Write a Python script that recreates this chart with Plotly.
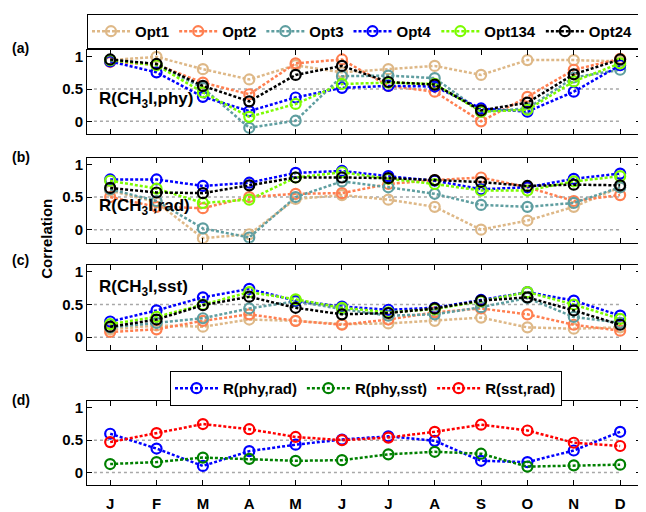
import plotly.graph_objects as go

months = ["J", "F", "M", "A", "M", "J", "J", "A", "S", "O", "N", "D"]
month_idx = list(range(1, len(months) + 1))

opt_names = ["Opt1", "Opt2", "Opt3", "Opt4", "Opt134", "Opt24"]
opt_colors = ["#DEB887", "#FF7F50", "#5F9EA0", "#0000FF", "#7CFC00", "#000000"]

# Panel (a) R(CH3I, phy)
phy_opt1 = [0.95, 1.00, 0.81, 0.65, 0.87, 0.76, 0.81, 0.86, 0.72, 0.95, 0.95, 0.93]
phy_opt2 = [0.92, 0.88, 0.60, 0.42, 0.90, 0.96, 0.55, 0.46, 0.00, 0.38, 0.80, 0.97]
phy_opt3 = [0.95, 0.88, 0.52, -0.10, 0.01, 0.70, 0.71, 0.67, 0.15, 0.20, 0.68, 0.80]
phy_opt4 = [0.93, 0.76, 0.38, 0.16, 0.37, 0.52, 0.55, 0.54, 0.20, 0.15, 0.46, 0.87]
phy_opt134 = [0.95, 0.87, 0.45, 0.07, 0.27, 0.58, 0.60, 0.58, 0.15, 0.18, 0.62, 0.90]
phy_opt24 = [0.96, 0.89, 0.55, 0.31, 0.72, 0.86, 0.61, 0.57, 0.17, 0.29, 0.73, 0.96]

# Panel (b) R(CH3I, rad)
rad_opt1 = [0.60, 0.42, -0.13, -0.07, 0.47, 0.53, 0.46, 0.35, 0.00, 0.14, 0.35, 0.65]
rad_opt2 = [0.50, 0.35, 0.33, 0.50, 0.55, 0.56, 0.70, 0.76, 0.80, 0.65, 0.44, 0.53]
rad_opt3 = [0.62, 0.44, 0.02, -0.12, 0.50, 0.74, 0.65, 0.55, 0.38, 0.35, 0.41, 0.65]
rad_opt4 = [0.77, 0.77, 0.67, 0.72, 0.87, 0.90, 0.82, 0.75, 0.62, 0.65, 0.78, 0.86]
rad_opt134 = [0.75, 0.63, 0.41, 0.46, 0.80, 0.88, 0.78, 0.70, 0.60, 0.60, 0.74, 0.82]
rad_opt24 = [0.64, 0.57, 0.56, 0.68, 0.80, 0.80, 0.79, 0.76, 0.73, 0.67, 0.69, 0.68]

# Panel (c) R(CH3I, sst)
sst_opt1 = [0.12, 0.18, 0.16, 0.27, 0.25, 0.20, 0.21, 0.25, 0.30, 0.15, 0.13, 0.15]
sst_opt2 = [0.08, 0.12, 0.25, 0.35, 0.25, 0.19, 0.27, 0.38, 0.44, 0.35, 0.19, 0.10]
sst_opt3 = [0.15, 0.22, 0.29, 0.44, 0.55, 0.43, 0.33, 0.35, 0.46, 0.60, 0.31, 0.22]
sst_opt4 = [0.24, 0.41, 0.61, 0.74, 0.56, 0.47, 0.42, 0.45, 0.57, 0.69, 0.56, 0.33]
sst_opt134 = [0.20, 0.31, 0.50, 0.69, 0.58, 0.45, 0.38, 0.43, 0.55, 0.69, 0.50, 0.28]
sst_opt24 = [0.16, 0.27, 0.49, 0.62, 0.45, 0.35, 0.37, 0.44, 0.56, 0.61, 0.41, 0.19]

# Panel (d)
d_names = ["R(phy,rad)", "R(phy,sst)", "R(sst,rad)"]
d_colors = ["#0000FF", "#008000", "#FF0000"]
r_phy_rad = [0.60, 0.37, 0.10, 0.33, 0.43, 0.51, 0.56, 0.49, 0.18, 0.16, 0.34, 0.63]
r_phy_sst = [0.13, 0.16, 0.23, 0.21, 0.18, 0.19, 0.28, 0.32, 0.29, 0.09, 0.11, 0.12]
r_sst_rad = [0.47, 0.61, 0.75, 0.67, 0.55, 0.50, 0.54, 0.63, 0.74, 0.65, 0.46, 0.41]

panel_labels = ["(a)", "(b)", "(c)", "(d)"]
panel_titles = ["R(CH<sub>3</sub>I,phy)", "R(CH<sub>3</sub>I,rad)", "R(CH<sub>3</sub>I,sst)"]
panel_title_y = [0.33, 0.35, 0.76]

# page body has an 8px margin; lay the figure out in screen pixels minus that
OFF = 8
W, H = 646 - OFF, 512 - OFF
FONT = "Liberation Sans"
panels_px = [(49, 134), (158, 244), (267, 353), (405, 490)]
label_px = [47, 157, 262, 403]
x_dom = [(87 - OFF) / W, (641 - OFF) / W]


def py(p):
    return 1 - (p - OFF) / H


def px(p):
    return (p - OFF) / W


fig = go.Figure()

opt_panels = [
    [phy_opt1, phy_opt2, phy_opt3, phy_opt4, phy_opt134, phy_opt24],
    [rad_opt1, rad_opt2, rad_opt3, rad_opt4, rad_opt134, rad_opt24],
    [sst_opt1, sst_opt2, sst_opt3, sst_opt4, sst_opt134, sst_opt24],
]


def add_series(y, name, color, k, show, legend):
    xs = "x" if k == 0 else f"x{k+1}"
    ys = "y" if k == 0 else f"y{k+1}"
    fig.add_trace(go.Scatter(
        x=month_idx, y=y, name=name, mode="lines+markers",
        line=dict(color=color, width=2.5, dash="3px,2px"),
        marker=dict(symbol="circle-open", size=10, color=color, line=dict(width=2.2, color=color)),
        xaxis=xs, yaxis=ys, legendgroup=name, showlegend=show, legend=legend,
    ))


for k, series in enumerate(opt_panels):
    for name, color, y in zip(opt_names, opt_colors, series):
        add_series(y, name, color, k, k == 0, "legend")

for name, color, y in zip(d_names, d_colors, [r_phy_rad, r_phy_sst, r_sst_rad]):
    add_series(y, name, color, 3, True, "legend2")

tickfont = dict(family=FONT, size=15, color="black", weight="bold")
layout = dict(
    width=W, height=H, margin=dict(l=0, r=0, t=0, b=0),
    paper_bgcolor="white", plot_bgcolor="white",
    font=dict(family=FONT, size=15, color="black"),
    showlegend=True,
)
shapes = []
annotations = []
for k, (top, bot) in enumerate(panels_px):
    xa = "xaxis" if k == 0 else f"xaxis{k+1}"
    ya = "yaxis" if k == 0 else f"yaxis{k+1}"
    xref = "x" if k == 0 else f"x{k+1}"
    yref = "y" if k == 0 else f"y{k+1}"
    layout[xa] = dict(
        domain=x_dom, range=[0.5, 12.45], anchor=yref,
        tickvals=month_idx, ticktext=months,
        showticklabels=(k == 3), ticks="inside", ticklen=5, tickcolor="black",
        showline=True, linecolor="black", linewidth=1, mirror="ticks",
        showgrid=False, zeroline=False, tickfont=tickfont, ticklabelstandoff=5,
    )
    layout[ya] = dict(
        domain=[py(bot), py(top)], range=[-0.2, 1.1], anchor=xref,
        tickvals=[0, 0.5, 1], ticktext=["0", "0.5", "1"],
        ticks="inside", ticklen=5, tickcolor="black",
        showline=True, linecolor="black", linewidth=1, mirror="ticks",
        showgrid=False, zeroline=False, tickfont=tickfont,
    )
    for gv in (0, 0.5):
        shapes.append(dict(type="line", xref=xref, yref=yref, x0=0.65, x1=12, y0=gv, y1=gv,
                           line=dict(color="#A8A8A8", width=1.5, dash="dot"), layer="below"))
    annotations.append(dict(text=panel_labels[k], xref="paper", yref="paper",
                            x=px(10), y=py(label_px[k]), xanchor="left", yanchor="middle",
                            showarrow=False,
                            font=dict(family=FONT, size=14, color="black", weight="bold")))
    if k < 3:
        annotations.append(dict(text=panel_titles[k], xref=xref, yref=yref,
                                x=0.72, y=panel_title_y[k], xanchor="left", yanchor="middle",
                                showarrow=False,
                                font=dict(family=FONT, size=17, color="black", weight="bold")))

annotations.append(dict(text="Correlation", xref="paper", yref="paper", x=px(47), y=py(240),
                        xanchor="center", yanchor="middle",
                        textangle=-90, showarrow=False,
                        font=dict(family=FONT, size=15, color="black", weight="bold")))

legfont = dict(family=FONT, size=15, color="black", weight="bold")
layout["legend"] = dict(
    orientation="h", x=px(87), y=py(12), xanchor="left", yanchor="top",
    bordercolor="black", borderwidth=1, bgcolor="white",
    font=legfont, itemwidth=38,
)
layout["legend2"] = dict(
    orientation="h", x=px(170), y=py(374), xanchor="left", yanchor="top",
    bordercolor="black", borderwidth=1, bgcolor="white",
    font=legfont, itemwidth=43,
)
layout["shapes"] = shapes
layout["annotations"] = annotations
fig.update_layout(**layout)
fig.write_html("out.html")
